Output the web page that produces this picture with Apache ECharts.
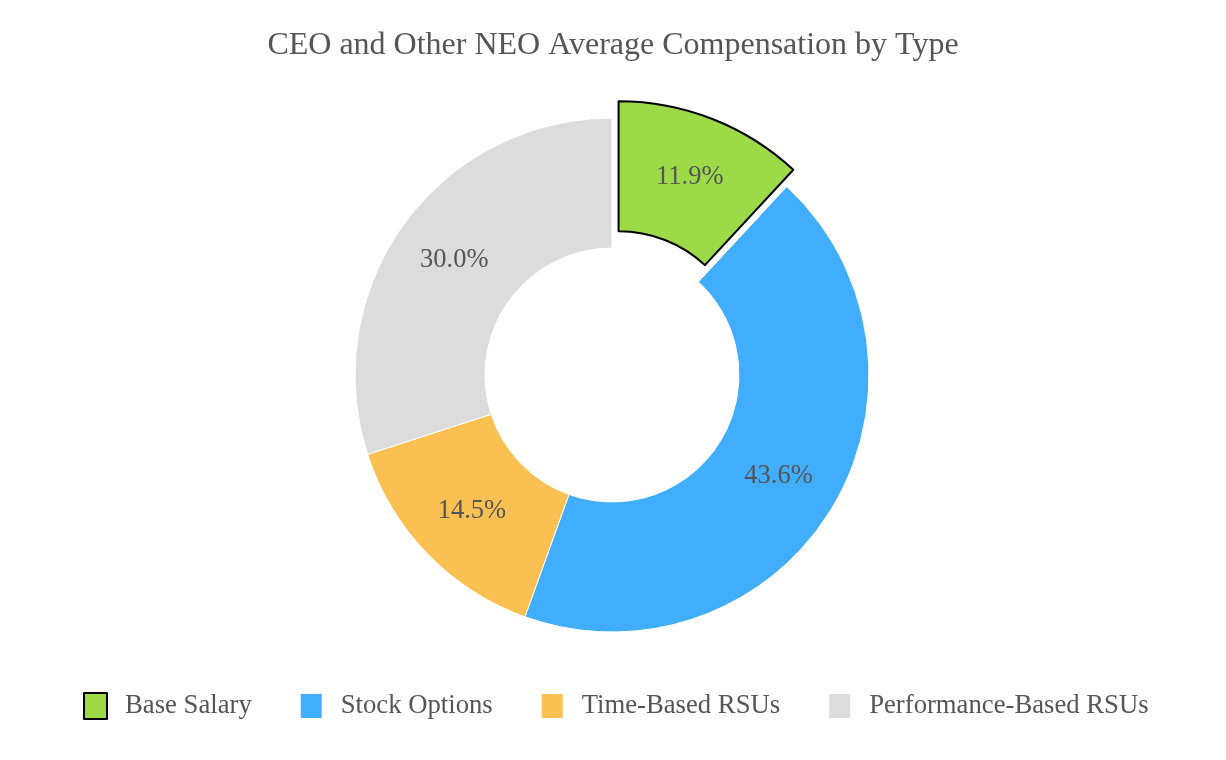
<!DOCTYPE html>
<html>
<head>
<meta charset="utf-8">
<style>
  html, body { margin: 0; padding: 0; background: #fff; }
  #chart { width: 1226px; height: 760px; }
</style>
<script src="https://cdn.jsdelivr.net/npm/echarts@6/dist/echarts.min.js"></script>
</head>
<body>
<div id="chart"></div>
<script>
const categories = ['Base Salary', 'Stock Options', 'Time-Based RSUs', 'Performance-Based RSUs'];
const shares = [11.9, 43.6, 14.5, 30.0];
const colors = ['#9cda48', '#40adff', '#fac052', '#dcdcdc'];

const font = '"Liberation Serif", "Times New Roman", serif';
const textColor = '#555555';

const chart = echarts.init(document.getElementById('chart'), null, { renderer: 'canvas' });

const data = categories.map((name, i) => {
  const item = { name, value: shares[i], itemStyle: { color: colors[i] } };
  if (i === 0) {
    item.selected = true;
    item.itemStyle.borderColor = '#000';
    item.itemStyle.borderWidth = 2;
  }
  return item;
});

chart.setOption({
  animation: false,
  title: {
    text: 'CEO and Other NEO Average Compensation by Type',
    left: 'center',
    top: 25,
    textStyle: { fontFamily: font, fontSize: 32, fontWeight: 'normal', color: textColor }
  },
  legend: {
    data: categories,
    bottom: 35,
    left: 78,
    icon: 'rect',
    itemWidth: 23,
    itemHeight: 26,
    itemGap: 47,
    selectedMode: false,
    textStyle: { fontFamily: font, fontSize: 26.7, color: textColor, padding: [0, 0, 0, 13] }
  },
  series: [
    {
      type: 'pie',
      center: [612, 375],
      radius: [127, 257],
      startAngle: 90,
      selectedMode: 'single',
      selectedOffset: 18,
      itemStyle: { borderColor: '#fff', borderWidth: 1 },
      label: {
        show: true,
        position: 'inside',
        formatter: (p) => p.value.toFixed(1) + '%',
        fontFamily: font,
        fontSize: 26.5,
        color: textColor
      },
      labelLine: { show: false },
      emphasis: { disabled: true },
      data
    }
  ]
});
</script>
</body>
</html>
